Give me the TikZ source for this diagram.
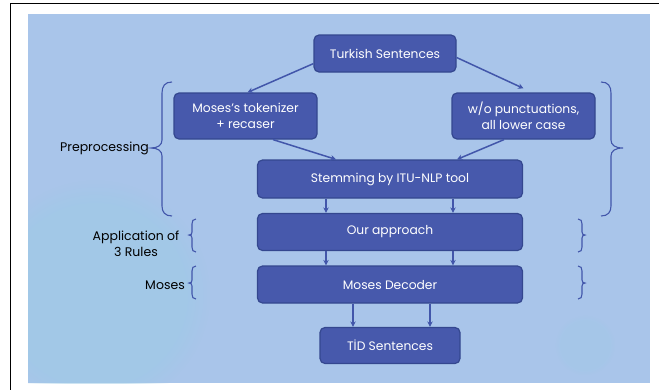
\documentclass[tikz,border=0pt]{standalone}
\usepackage{fontspec}
\setmainfont{Poppins}
\usetikzlibrary{arrows.meta,fadings}
\definecolor{bgblue}{HTML}{A9C5EA}
\definecolor{glow}{HTML}{9CCBE6}
\definecolor{boxfill}{HTML}{4759AC}
\definecolor{boxline}{HTML}{34478F}
\definecolor{arrowc}{HTML}{4256AA}
\begin{document}
\begin{tikzpicture}[x=1pt,y=-1pt,
  stepbox/.style={draw=boxline, line width=1.2pt, fill=boxfill, rounded corners=5pt,
    text=white, font=\fontsize{12.3}{16.5}\selectfont, align=center, inner sep=0pt},
  flow/.style={draw=arrowc, line width=1.5pt, -{Stealth[length=5.5pt,width=5.5pt]}},
  bracec/.style={draw=arrowc, line width=1.1pt},
  lbl/.style={text=black, font=\fontsize{12.5}{16}\selectfont, align=center, inner sep=0pt}]
\useasboundingbox (0,0) rectangle (659,389);
\fill[white] (0,0) rectangle (659,389);
\draw[black, line width=0.8pt] (10.5,3.5) rectangle (665,395);
\fill[bgblue] (28,14) rectangle (650,383);
\begin{scope}
  \clip (28,14) rectangle (650,383);
  \fill[glow, opacity=0.5, path fading=circle with fuzzy edge 20 percent] (95,295) circle (115);
  \fill[glow, opacity=0.3, path fading=circle with fuzzy edge 20 percent] (585,345) circle (30);
\end{scope}

\node[stepbox, minimum width=142pt, minimum height=37pt] (turk) at (385,53.5) {Turkish Sentences};
\node[stepbox, minimum width=143pt, minimum height=46pt] (tok) at (245.5,116) {Moses's tokenizer\\+ recaser};
\node[stepbox, minimum width=143pt, minimum height=46pt] (wo) at (523.5,116) {w/o punctuations,\\all lower case};
\node[stepbox, minimum width=265pt, minimum height=38pt] (stem) at (390,179) {Stemming by ITU-NLP tool};
\node[stepbox, minimum width=265pt, minimum height=37pt] (appr) at (390,232) {Our approach};
\node[stepbox, minimum width=265pt, minimum height=37pt] (dec) at (390,284.5) {Moses Decoder};
\node[stepbox, minimum width=140pt, minimum height=36pt] (tid) at (390,345.5) {TİD Sentences};

\draw[flow] ([yshift=9pt]turk.south west) -- ([xshift=2pt]tok.north);
\draw[flow] ([yshift=-4pt]turk.east) -- ([yshift=4pt]wo.north);
\draw[flow] ([xshift=27.5pt]tok.south) -- ([xshift=-54pt]stem.north);
\draw[flow] ([xshift=-19.5pt]wo.south) -- ([xshift=67pt]stem.north);
\draw[flow] ([xshift=-64pt]stem.south) -- ([xshift=-64pt]appr.north);
\draw[flow] ([xshift=63pt]stem.south) -- ([xshift=63pt]appr.north);
\draw[flow] ([xshift=-64pt]appr.south) -- ([xshift=-64pt]dec.north);
\draw[flow] ([xshift=63pt]appr.south) -- ([xshift=63pt]dec.north);
\draw[flow] ([xshift=-37pt]dec.south) -- ([xshift=-37pt]tid.north);
\draw[flow] ([xshift=40pt]dec.south) -- ([xshift=40pt]tid.north);

% braces
\draw[bracec] (172,82) .. controls (165,82) and (162,86) .. (162,93) -- (162,140)
  .. controls (162,145) and (158,148) .. (151,148)
  .. controls (158,148) and (162,151) .. (162,156) -- (162,206)
  .. controls (162,212) and (165,216) .. (172,216);
\draw[bracec] (601,82) .. controls (608,82) and (611,86) .. (611,93) -- (611,140)
  .. controls (611,145) and (615,148) .. (623,148)
  .. controls (615,148) and (611,151) .. (611,156) -- (611,206)
  .. controls (611,212) and (608,216) .. (601,216);
\draw[bracec] (196,219) .. controls (193,219) and (192,221) .. (192,224) -- (192,232)
  .. controls (192,234) and (191,235) .. (189,235)
  .. controls (191,235) and (192,236) .. (192,238) -- (192,247)
  .. controls (192,250) and (193,252) .. (196,252);
\draw[bracec] (196,266) .. controls (193,266) and (192,268) .. (192,271) -- (192,280)
  .. controls (192,282) and (191,283) .. (189,283)
  .. controls (191,283) and (192,284) .. (192,286) -- (192,294)
  .. controls (192,297) and (193,299) .. (196,299);
\draw[bracec] (578,219) .. controls (581,219) and (582,221) .. (582,224) -- (582,232)
  .. controls (582,234) and (583,235) .. (585,235)
  .. controls (583,235) and (582,236) .. (582,238) -- (582,247)
  .. controls (582,250) and (581,252) .. (578,252);
\draw[bracec] (578,266) .. controls (581,266) and (582,268) .. (582,271) -- (582,280)
  .. controls (582,282) and (583,283) .. (585,283)
  .. controls (583,283) and (582,284) .. (582,286) -- (582,294)
  .. controls (582,297) and (581,299) .. (578,299);

\node[lbl, anchor=east] (pre) at (149,148) {Preprocessing};
\node[lbl] (rules) at (136,244) {Application of\\3 Rules};
\node[lbl, anchor=east] (moses) at (185,285) {Moses};
\end{tikzpicture}
\end{document}
